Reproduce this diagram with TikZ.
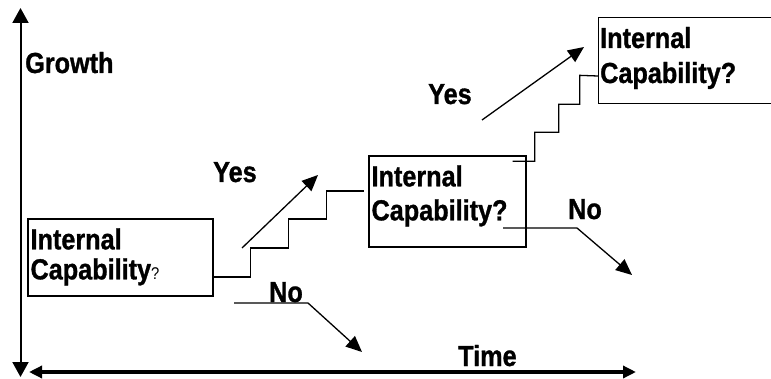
\documentclass[tikz,border=0pt]{standalone}
\usepackage{fontspec}
\setmainfont{Liberation Sans}[FakeStretch=0.87, BoldFeatures={FakeBold=1}]
\usetikzlibrary{arrows.meta, calc, positioning}

\begin{document}
\begin{tikzpicture}[
x=1pt, y=1pt,
texts/.style = {text=black, font=\bfseries\fontsize{29}{33}\selectfont, inner sep=0pt},
qtext/.style = {texts, align=left, anchor=base west},
qbox/.style = {draw, line width=1.3pt, inner sep=0pt},
axis/.style = {draw, {Triangle[length=15pt,width=16pt]}-{Triangle[length=15pt,width=16pt]}},
stair/.style = {draw, line width=1.3pt},
arrow/.style = {draw, line width=1.3pt, -{Triangle[length=16pt,width=14pt]}}
]
\clip (0,0) rectangle (771,378);

% axes
\coordinate (gtop) at (20.5,370);
\coordinate (gbot) at (20.5,1);
\coordinate (tleft) at (29,6);
\coordinate (tright) at (636,6);
\draw[axis, line width=2pt] (gbot) -- (gtop);
\draw[axis, line width=3.5pt, {Triangle[length=13pt,width=12pt]}-{Triangle[length=13pt,width=12pt]}] (tleft) -- (tright);
\node[texts, anchor=base west] (growth) at (25,305) {Growth};
\node[texts, anchor=base west] (time) at (458,12) {Time};

% boxes
\node[qbox, minimum width=185pt, minimum height=77pt] (box1) at (120.5,120.5) {};
\node[qbox, minimum width=157pt, minimum height=91pt] (box2) at (447.5,176.5) {};
\node[qbox, minimum width=200pt, minimum height=86pt, anchor=north west] (box3) at (598,361) {};
\node[qtext] (q1) at ([shift={(3,-61)}]box1.north west) {Internal\\[-3pt]Capability{\fontsize{17}{17}\mdseries ?}};
\node[qtext] (q2) at ([shift={(3,-65)}]box2.north west) {Internal\\[1pt]Capability?};
\node[qtext] (q3) at ([shift={(2,-66)}]box3.north west) {Internal\\[2pt]Capability?};

% stairs
\draw[stair] ([yshift=-19.5pt]box1.east) -- ++(37,0) -- ++(0,29) -- ++(38,0) -- ++(0,29)
  -- ++(38,0) -- ++(0,28) -- ++(37,0);
\draw[stair] ([shift={(-14,-6)}]box2.north east) -- ++(22,0) -- ++(0,29) -- ++(24,0) -- ++(0,28)
  -- ++(21,0) -- ++(0,29) -- (box3.west |- 0,302);

% yes / no
\coordinate (yes1a) at (242,130);
\coordinate (yes1b) at (318,203);
\coordinate (yes2a) at (482,258);
\coordinate (yes2b) at (584,331);
\draw[arrow] (yes1a) -- (yes1b);
\draw[arrow] (yes2a) -- (yes2b);
\node[texts, anchor=base west] (yes1) at (213,196) {Yes};
\node[texts, anchor=base west] (yes2) at (428,274) {Yes};

\coordinate (no1a) at (234,75);
\coordinate (no1b) at (362,26);
\coordinate (no2a) at (503,150);
\coordinate (no2b) at (632,103);
\draw[arrow] (no1a) -- ++(74,0) -- (no1b);
\draw[arrow] (no2a) -- ++(74,0) -- (no2b);
\node[texts, anchor=base west] (no1) at (269,76) {No};
\node[texts, anchor=base west] (no2) at (568,159) {No};
\end{tikzpicture}
\end{document}
